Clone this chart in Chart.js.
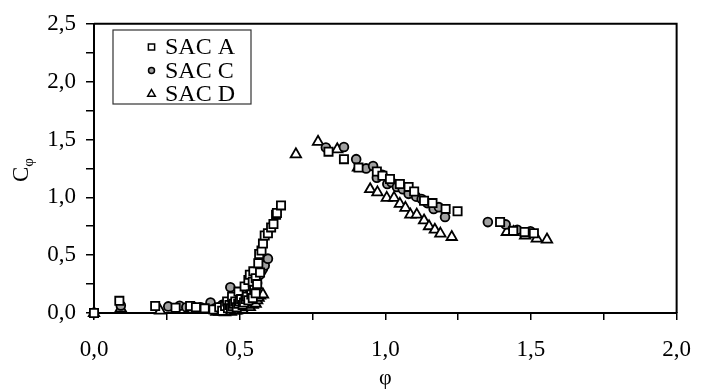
<!DOCTYPE html>
<html>
<head>
<meta charset="utf-8">
<script src="https://cdn.jsdelivr.net/npm/chart.js@4.4.0/dist/chart.umd.min.js"></script>
<style>
  html, body { margin: 0; padding: 0; background: #fff; }
  #chart { display: block; }
</style>
</head>
<body>
<canvas id="chart" width="707" height="391"></canvas>
<script>
const seriesNames = ["SAC A", "SAC C", "SAC D"];

// SAC A (squares)
const sacAPhi = [0, 0.087, 0.21, 0.28, 0.33, 0.35, 0.38, 0.41, 0.43, 0.44, 0.45, 0.457, 0.46, 0.465, 0.47, 0.474, 0.475, 0.48, 0.485, 0.49, 0.495, 0.496, 0.5, 0.505, 0.51, 0.515, 0.517, 0.52, 0.525, 0.53, 0.53, 0.535, 0.54, 0.545, 0.545, 0.547, 0.55, 0.555, 0.555, 0.56, 0.564, 0.567, 0.57, 0.575, 0.58, 0.586, 0.597, 0.608, 0.616, 0.625, 0.628, 0.642,
  0.805, 0.858, 0.908, 0.971, 0.99, 1.016, 1.05, 1.08, 1.099, 1.133, 1.162, 1.207, 1.248, 1.394, 1.439, 1.478, 1.51];
const sacACphi = [0, 0.105, 0.06, 0.045, 0.06, 0.05, 0.04, 0.03, 0.05, 0.02, 0.06, 0.1, 0.04, 0.07, 0.04, 0.14, 0.06, 0.08, 0.1, 0.05, 0.08, 0.185, 0.1, 0.12, 0.07, 0.09, 0.23, 0.12, 0.14, 0.285, 0.11, 0.33, 0.16, 0.13, 0.27, 0.36, 0.2, 0.3, 0.17, 0.25, 0.43, 0.51, 0.35, 0.54, 0.6, 0.67, 0.69, 0.74, 0.77, 0.85, 0.865, 0.93,
  1.395, 1.33, 1.257, 1.223, 1.186, 1.158, 1.115, 1.09, 1.05, 0.97, 0.95, 0.9, 0.88, 0.786, 0.71, 0.7, 0.69];

// SAC C (circles)
const sacCPhi = [0, 0.092, 0.255, 0.294, 0.317, 0.339, 0.367, 0.39, 0.4, 0.415, 0.43, 0.44, 0.45, 0.46, 0.468, 0.47, 0.48, 0.49, 0.5, 0.505, 0.51, 0.52, 0.524, 0.536, 0.54, 0.545, 0.553, 0.558, 0.56, 0.569, 0.575, 0.58, 0.586, 0.597,
  0.796, 0.858, 0.9, 0.934, 0.958, 0.971, 0.99, 1.007, 1.021, 1.04, 1.06, 1.08, 1.106, 1.125, 1.144, 1.166, 1.184, 1.205, 1.352, 1.413, 1.453, 1.498];
const sacCCphi = [0, 0.065, 0.057, 0.063, 0.05, 0.057, 0.05, 0.043, 0.09, 0.04, 0.05, 0.07, 0.06, 0.09, 0.223, 0.08, 0.11, 0.12, 0.14, 0.1, 0.155, 0.13, 0.17, 0.2, 0.18, 0.22, 0.234, 0.285, 0.26, 0.33, 0.36, 0.385, 0.41, 0.47,
  1.43, 1.435, 1.33, 1.25, 1.27, 1.17, 1.195, 1.115, 1.13, 1.09, 1.07, 1.03, 1.006, 0.986, 0.95, 0.9, 0.915, 0.83, 0.786, 0.766, 0.72, 0.706];

// SAC D (triangles)
const sacDPhi = [0, 0.092, 0.227, 0.42, 0.43, 0.44, 0.45, 0.455, 0.46, 0.465, 0.47, 0.475, 0.48, 0.485, 0.49, 0.495, 0.5, 0.505, 0.51, 0.515, 0.52, 0.525, 0.525, 0.53, 0.535, 0.54, 0.545, 0.545, 0.55, 0.55, 0.555, 0.56, 0.56, 0.565, 0.565, 0.57, 0.57, 0.575, 0.58,
  0.693, 0.769, 0.835, 0.906, 0.948, 0.973, 1.005, 1.03, 1.05, 1.069, 1.086, 1.108, 1.133, 1.15, 1.17, 1.189, 1.228, 1.417, 1.44, 1.48, 1.52, 1.555];
const sacDCphi = [0, 0.04, 0.02, 0.01, 0.01, 0.02, 0.005, 0.015, 0.03, 0.02, 0.01, 0.03, 0.04, 0.02, 0.02, 0.04, 0.05, 0.04, 0.03, 0.06, 0.07, 0.05, 0.08, 0.09, 0.05, 0.1, 0.07, 0.11, 0.12, 0.09, 0.08, 0.14, 0.11, 0.16, 0.13, 0.18, 0.15, 0.17, 0.16,
  1.372, 1.48, 1.415, 1.257, 1.07, 1.043, 0.995, 0.995, 0.943, 0.909, 0.85, 0.85, 0.8, 0.75, 0.72, 0.686, 0.657, 0.7, 0.7, 0.67, 0.643, 0.635];

const xTickLabels = ["0,0", "0,5", "1,0", "1,5", "2,0"];
const yTickLabels = ["0,0", "0,5", "1,0", "1,5", "2,0", "2,5"];

const toPoints = (xs, ys) => xs.map((x, i) => ({ x, y: ys[i] }));

const halfStepLabel = (labels) => (value) => {
  const k = Math.round(value * 2);
  return Math.abs(value * 2 - k) < 1e-6 ? labels[k] : "";
};

const serif = "'Liberation Serif', 'Times New Roman', serif";

const styles = [
  { pointStyle: "rect", radius: 5.8, legendRadius: 4.4, fill: "#ffffff" },
  { pointStyle: "circle", radius: 4.4, legendRadius: 3.0, fill: "#a0a0a0" },
  { pointStyle: "triangle", radius: 6, legendRadius: 4.4, fill: "#ffffff" },
];

const extrasPlugin = {
  id: "extras",
  afterDraw(chart) {
    const { ctx, chartArea } = chart;
    ctx.save();
    // top and right frame lines
    ctx.strokeStyle = "#000";
    ctx.lineWidth = 2;
    ctx.beginPath();
    ctx.moveTo(chartArea.left, chartArea.top);
    ctx.lineTo(chartArea.right, chartArea.top);
    ctx.lineTo(chartArea.right, chartArea.bottom);
    ctx.stroke();

    // legend box
    ctx.lineWidth = 1.2;
    ctx.strokeStyle = "#333";
    ctx.fillStyle = "#fff";
    ctx.fillRect(113, 30, 138, 74);
    ctx.strokeRect(113, 30, 138, 74);
    const rows = [47, 70.5, 94];
    ctx.font = "24px " + serif;
    ctx.textBaseline = "middle";
    seriesNames.forEach((name, i) => {
      const s = styles[i];
      ctx.fillStyle = s.fill;
      ctx.strokeStyle = "#000";
      ctx.lineWidth = 1.5;
      Chart.helpers.drawPoint(ctx, { pointStyle: s.pointStyle, radius: s.legendRadius, rotation: 0, borderWidth: 1.5 }, 151.5, rows[i]);
      ctx.fillStyle = "#000";
      ctx.fillText(name, 165, rows[i] + 1);
    });

    // y axis title C with subscript phi
    ctx.translate(28, 170);
    ctx.rotate(-Math.PI / 2);
    ctx.fillStyle = "#000";
    ctx.textBaseline = "alphabetic";
    ctx.textAlign = "left";
    ctx.font = "23px " + serif;
    const cw = ctx.measureText("C").width;
    ctx.font = "15px " + serif;
    const pw = ctx.measureText("\u03c6").width;
    const start = -(cw + pw) / 2;
    ctx.font = "23px " + serif;
    ctx.fillText("C", start, 0);
    ctx.font = "15px " + serif;
    ctx.fillText("\u03c6", start + cw, 5);
    ctx.restore();
  },
};

new Chart(document.getElementById("chart"), {
  type: "scatter",
  data: {
    datasets: [
      { label: seriesNames[0], data: toPoints(sacAPhi, sacACphi) },
      { label: seriesNames[1], data: toPoints(sacCPhi, sacCCphi) },
      { label: seriesNames[2], data: toPoints(sacDPhi, sacDCphi) },
    ].map((d, i) => ({
      ...d,
      pointStyle: styles[i].pointStyle,
      pointRadius: styles[i].radius,
      pointHoverRadius: styles[i].radius,
      backgroundColor: styles[i].fill,
      borderColor: "#000",
      pointBorderWidth: 1.8,
      clip: false,
    })),
  },
  options: {
    responsive: false,
    animation: false,
    layout: { padding: { left: 0, right: 17, top: 20, bottom: 0 } },
    plugins: { legend: { display: false }, tooltip: { enabled: false } },
    scales: {
      x: {
        type: "linear",
        min: 0,
        max: 2,
        afterFit: (scale) => { scale.height = 78; },
        ticks: {
          stepSize: 0.25,
          autoSkip: false,
          maxRotation: 0,
          padding: 16,
          color: "#000",
          font: { family: serif, size: 23 },
          callback: halfStepLabel(xTickLabels),
        },
        grid: { drawOnChartArea: false, drawTicks: true, tickLength: 7, color: "#000", lineWidth: 1.5 },
        border: { display: true, color: "#000", width: 2 },
        title: { display: true, text: "\u03c6", color: "#000", font: { family: serif, size: 22 }, padding: { top: 0, bottom: 0 } },
      },
      y: {
        type: "linear",
        min: 0,
        max: 2.5,
        afterFit: (scale) => { scale.width = 94; },
        ticks: {
          stepSize: 0.25,
          autoSkip: false,
          padding: 10,
          color: "#000",
          font: { family: serif, size: 23 },
          callback: halfStepLabel(yTickLabels),
        },
        grid: { drawOnChartArea: false, drawTicks: true, tickLength: 8, color: "#000", lineWidth: 1.5 },
        border: { display: true, color: "#000", width: 2 },
      },
    },
  },
  plugins: [extrasPlugin],
});
</script>
</body>
</html>
